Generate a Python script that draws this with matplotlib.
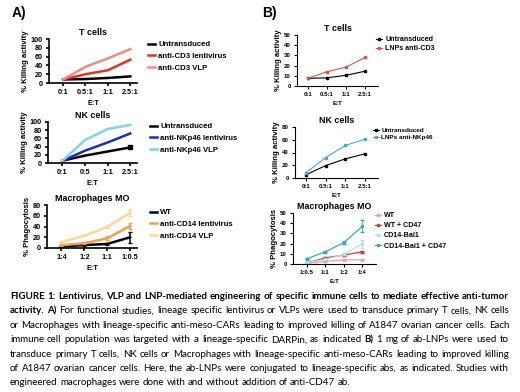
import matplotlib
matplotlib.use('Agg')
import matplotlib.pyplot as plt
from matplotlib import font_manager

plt.rcParams['font.family'] = ['Liberation Sans', 'DejaVu Sans']
plt.rcParams['font.weight'] = 'bold'

# ---- data ----
et_a = ['0:1', '0.5:1', '1:1', '2.5:1']
et_a_nk = ['0:1', '0:5', '1:1', '2.5:1']
et_a_mo = ['1:4', '1:2', '1:1', '1:0.5']

t_untr_a = [8, 9, 11.5, 15]
t_lenti_a = [8, 20, 29, 53]
t_vlp_a = [8, 37, 56, 77]

nk_untr_a = [5.5, 18, 28, 38]
nk_lenti_a = [5, 30, 50, 72]
nk_vlp_a = [5, 56, 83, 93]

mo_wt_a = [3, 5.5, 7.5, 20]
mo_wt_a_err = [1, 1, 1.5, 10]
mo_lenti_a = [5, 9, 18, 41]
mo_lenti_a_err = [1, 1.5, 4, 6]
mo_vlp_a = [11, 23, 39, 66]
mo_vlp_a_err = [1, 1.5, 1.5, 7]

et_b = ['0:1', '0.5:1', '1:1', '2.5:1']
et_b_mo = ['1:0.5', '1:1', '1:2', '1:4']

t_untr_b = [7.5, 8, 10.5, 14.5]
t_lnp_b = [7.5, 14, 18.5, 28]

nk_untr_b = [5, 19.5, 30, 38]
nk_lnp_b = [8.5, 32, 51, 61]

mo_wt_b = [0.6, 2.6, 4, 4.2]
mo_wt_b_err = [0.3, 0.5, 0.5, 0.6]
mo_wtcd47_b = [1, 6, 8.8, 12]
mo_wtcd47_b_err = [0.3, 0.6, 0.8, 1]
mo_bai_b = [1.3, 4.5, 9.4, 20]
mo_bai_b_err = [0.3, 0.6, 1, 4]
mo_baicd47_b = [5.2, 12, 21, 37]
mo_baicd47_b_err = [0.5, 0.8, 1.5, 6]

W, H = 520, 392
fig = plt.figure(figsize=(W / 100, H / 100), dpi=100)


def px(l, t, r, b):
    return [l / W, 1 - b / H, (r - l) / W, (b - t) / H]


def panel(rect, title, ylabel, ylim, yticks, xlabels, xlim, tfs, lfs, lw):
    ax = fig.add_axes(rect)
    ax.spines[['top', 'right']].set_visible(False)
    ax.spines[['left', 'bottom']].set_linewidth(lw)
    ax.set_ylim(*ylim)
    ax.set_yticks(yticks)
    ax.set_xlim(*xlim)
    ax.set_xticks(range(len(xlabels)))
    ax.set_xticklabels(xlabels)
    ax.tick_params(labelsize=tfs, width=lw, length=2.5, pad=2)
    ax.set_title(title, fontsize=lfs + 0.8, fontweight='bold', pad=3)
    ax.set_ylabel(ylabel, fontsize=lfs, fontweight='bold', labelpad=1)
    ax.set_xlabel('E:T', fontsize=tfs, fontweight='bold', labelpad=3)
    return ax


def legend(ax, x, y, fs, spacing):
    ax.legend(loc='upper left', bbox_to_anchor=(x / W, 1 - y / H),
              bbox_transform=fig.transFigure, frameon=False, fontsize=fs,
              handlelength=0.9, handletextpad=0.4, labelspacing=spacing,
              borderpad=0, borderaxespad=0)


xs = range(4)
LW_A = 1.8

# ---- A) T cells ----
ax = panel(px(49, 39, 137, 83), 'T cells', '% Killing activity', (0, 100),
           range(0, 101, 20), et_a, (-0.63, 3.3), 5.2, 5.6, 1.2)
ax.plot(xs, t_untr_a, color='black', lw=LW_A, label='Untransduced')
ax.plot(xs, t_lenti_a, color='#df3325', lw=LW_A, label='anti-CD3 lentivirus')
ax.plot(xs, t_vlp_a, color='#f08a8a', lw=LW_A, label='anti-CD3 VLP')
legend(ax, 148, 41, 5.6, 0.55)

# ---- A) NK cells ----
ax = panel(px(48, 122, 137, 163), 'NK cells', '% Killing activity', (0, 100),
           range(0, 101, 20), et_a_nk, (-0.63, 3.3), 5.2, 5.6, 1.2)
ax.plot(xs, nk_untr_a, color='black', lw=LW_A, label='Untransduced')
ax.plot(xs[3], nk_untr_a[3], color='black', marker='s', ms=3)
ax.plot(xs, nk_lenti_a, color='#1b2fb3', lw=LW_A, label='anti-NKp46 lentivirus')
ax.plot(xs, nk_vlp_a, color='#7fd3ea', lw=LW_A, label='anti-NKp46 VLP')
legend(ax, 150, 123, 5.6, 0.55)

# ---- A) Macrophages ----
ax = panel(px(47, 205, 137, 248), 'Macrophages MO', '% Phagocytosis', (0, 80),
           range(0, 81, 20), et_a_mo, (-0.63, 3.3), 5.2, 5.6, 1.2)
for ys, err, c, lab in [(mo_wt_a, mo_wt_a_err, 'black', 'WT'),
                        (mo_lenti_a, mo_lenti_a_err, '#f0a04a', 'anti-CD14 lentivirus'),
                        (mo_vlp_a, mo_vlp_a_err, '#f8d99c', 'anti-CD14 VLP')]:
    ax.errorbar(xs, ys, yerr=err, fmt='none', ecolor=c, capsize=1.5, elinewidth=1.1)
    ax.plot(xs, ys, color=c, lw=LW_A, label=lab)
legend(ax, 150, 209, 5.6, 0.55)

# ---- B) T cells ----
ax = panel(px(297, 35, 378, 86), 'T cells', '% Killing activity', (0, 50),
           range(0, 51, 10), et_b, (-0.58, 3.68), 4.4, 5.6, 0.8)
ax.plot(xs, t_untr_b, color='black', lw=0.8, marker='s', ms=1.8, label='Untransduced')
ax.plot(xs, t_lnp_b, color='#d9534c', lw=0.8, marker='s', ms=1.8, label='LNPs anti-CD3')
legend(ax, 376, 36, 5.1, 0.35)

# ---- B) NK cells ----
ax = panel(px(295, 127, 378, 178), 'NK cells', '% Killing activity', (0, 80),
           range(0, 81, 20), et_b, (-0.56, 3.66), 4.4, 5.6, 0.8)
ax.plot(xs, nk_untr_b, color='black', lw=0.8, marker='s', ms=1.8, label='Untransduced')
ax.plot(xs, nk_lnp_b, color='#45a6d2', lw=0.8, marker='s', ms=1.8, label='LNPs anti-NKp46')
legend(ax, 373, 128, 4.6, 0.2)

# ---- B) Macrophages ----
ax = panel(px(293, 213, 376, 264), 'Macrophages MO', '% Phagocytosis', (0, 50),
           range(0, 51, 10), et_b_mo, (-0.76, 3.74), 4.4, 5.6, 0.8)
for ys, err, c, lab in [(mo_wt_b, mo_wt_b_err, '#eaa2aa', 'WT'),
                        (mo_wtcd47_b, mo_wtcd47_b_err, '#d23a3a', 'WT + CD47'),
                        (mo_bai_b, mo_bai_b_err, '#a6e6ef', 'CD14-Bai1'),
                        (mo_baicd47_b, mo_baicd47_b_err, '#3aa7be', 'CD14-Bai1 + CD47')]:
    ax.errorbar(xs, ys, yerr=err, fmt='none', ecolor=c, capsize=1.2, elinewidth=0.6)
    ax.plot(xs, ys, color=c, lw=0.9, marker='s', ms=1.8, label=lab)
legend(ax, 375, 212, 5.1, 0.45)

# panel letters
fig.text(12 / W, 1 - 13 / H, 'A)', fontsize=10, fontweight='bold', va='center')
fig.text(262 / W, 1 - 13 / H, 'B)', fontsize=10, fontweight='bold', va='center')

# ---- caption (justified) ----
names = {f.name for f in font_manager.fontManager.ttflist}
cap_font = 'Liberation Sans Narrow' if 'Liberation Sans Narrow' in names else 'Lato'
cap_size = 7.0

caption = [
    [('FIGURE 1:  Lentivirus, VLP and LNP-mediated engineering of specific immune cells to mediate effective anti-tumor', True)],
    [('activity. A)', True), ('For functional studies, lineage specific lentivirus or VLPs were used to transduce primary T cells, NK cells', False)],
    [('or Macrophages with lineage-specific anti-meso-CARs leading to improved killing of A1847 ovarian cancer cells. Each', False)],
    [('immune cell population was targeted with a lineage-specific DARPin, as indicated', False), ('B)', True),
     ('1 mg of ab-LNPs were used to', False)],
    [('transduce primary T cells, NK cells or Macrophages with lineage-specific anti-meso-CARs leading to improved killing', False)],
    [('of A1847 ovarian cancer cells. Here, the ab-LNPs were conjugated to lineage-specific abs, as indicated. Studies with', False)],
    [('engineered macrophages were done with and without addition of anti-CD47 ab.', False)],
]

renderer = fig.canvas.get_renderer()
x0, x1 = 10, 509
y_first, dy = 299, 14.4   # baseline of first line, line pitch (px)
probe = fig.text(0, 0, 'a a', fontsize=cap_size, family=cap_font)
w_aa = probe.get_window_extent(renderer).width
probe.set_text('aa')
space_w = w_aa - probe.get_window_extent(renderer).width
probe.remove()

for i, line in enumerate(caption):
    words = []
    for seg, bold in line:
        for w in seg.split():
            words.append((w, bold))
    y = 1 - (y_first + i * dy) / H
    texts = [fig.text(0, y, w, fontsize=cap_size, family=cap_font,
                      fontweight='bold' if b else 'normal', va='baseline')
             for w, b in words]
    widths = [t.get_window_extent(renderer).width for t in texts]
    if i < len(caption) - 1:
        gap = (x1 - x0 - sum(widths)) / (len(words) - 1)
    else:
        gap = space_w
    x = x0
    for t, w in zip(texts, widths):
        t.set_x(x / W)
        x += w + gap

fig.savefig('out.png', dpi=100)
